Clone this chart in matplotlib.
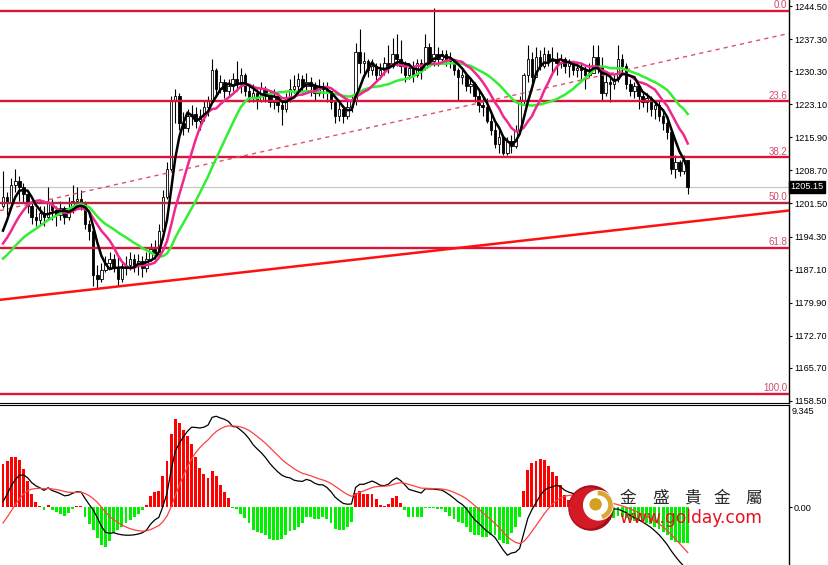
import numpy as np
import pandas as pd
import matplotlib
matplotlib.use("Agg")
import matplotlib.pyplot as plt
from matplotlib.patches import Circle, Wedge

plt.rcParams['font.family'] = ['Liberation Sans', 'DejaVu Sans']

# gold candles, bar 0 = first visible bar
close = [1203.0, 1201.5, 1205.5, 1206.5, 1205.0, 1203.5, 1201.0, 1198.5, 1198.0, 1199.5,
         1198.5, 1201.5, 1200.0, 1199.0, 1200.5, 1198.5, 1200.5, 1202.0, 1202.5, 1201.5,
         1197.0, 1195.5, 1186.0, 1185.0, 1187.0, 1188.5, 1189.5, 1187.5, 1185.0, 1187.5,
         1188.0, 1189.5, 1188.0, 1189.0, 1187.5, 1189.5, 1191.5, 1190.5, 1195.5, 1203.0,
         1209.0, 1224.0, 1225.0, 1219.0, 1218.0, 1220.5, 1221.0, 1219.5, 1220.5, 1222.5,
         1224.0, 1230.5, 1226.5, 1228.0, 1226.0, 1227.0, 1228.5, 1227.5, 1229.5, 1226.0,
         1224.5, 1225.5, 1224.0, 1226.5, 1225.0, 1223.5, 1225.0, 1223.0, 1222.0, 1224.5,
         1226.5, 1227.0, 1228.5, 1227.0, 1228.0, 1227.0, 1225.5, 1227.0, 1226.5, 1226.0,
         1223.5, 1220.5, 1222.0, 1220.5, 1222.5, 1224.0, 1234.5, 1232.0, 1232.5, 1230.5,
         1231.5, 1229.5, 1230.5, 1232.0, 1231.5, 1234.0, 1233.0, 1231.5, 1229.5, 1231.0,
         1229.5, 1232.0, 1231.0, 1235.5, 1232.5, 1234.0, 1233.0, 1234.0, 1233.0, 1232.5,
         1230.5, 1229.0, 1229.5, 1227.0, 1227.5, 1225.0, 1223.0, 1222.5, 1219.5, 1217.5,
         1214.5, 1216.0, 1212.5, 1215.0, 1214.0, 1217.5, 1224.0, 1229.5, 1233.0, 1229.0,
         1233.5, 1231.5, 1234.0, 1232.5, 1233.0, 1232.0, 1233.0, 1231.5, 1232.0, 1230.5,
         1231.0, 1230.5, 1229.5, 1230.0, 1233.5, 1231.5, 1225.5, 1228.0, 1227.5, 1228.5,
         1233.0, 1231.5, 1227.5, 1226.0, 1227.0, 1225.0, 1223.5, 1224.5, 1222.0, 1223.0,
         1220.5, 1219.0, 1217.0, 1209.0, 1210.5, 1208.5, 1211.0, 1205.15]
high = [1208.5, 1204.0, 1207.0, 1209.0, 1207.5, 1206.0, 1204.0, 1202.0, 1200.5, 1201.0,
        1201.0, 1205.0, 1202.5, 1201.0, 1202.0, 1201.0, 1203.0, 1205.5, 1205.0, 1204.5,
        1202.0, 1198.0, 1196.0, 1188.0, 1188.5, 1190.0, 1191.0, 1190.5, 1190.0, 1188.5,
        1190.0, 1191.0, 1190.5, 1190.5, 1190.0, 1191.0, 1193.0, 1193.5, 1197.0, 1204.5,
        1210.5, 1225.0, 1226.5, 1225.5, 1221.5, 1222.0, 1223.0, 1222.5, 1222.0, 1224.0,
        1225.0, 1233.0, 1231.0, 1229.5, 1228.5, 1228.5, 1230.0, 1232.5, 1231.0, 1230.0,
        1227.0, 1227.5, 1226.5, 1228.0, 1227.0, 1226.0, 1226.5, 1225.5, 1224.0, 1225.5,
        1228.5, 1229.5, 1230.0, 1229.5, 1230.0, 1229.0, 1228.0, 1228.5, 1228.0, 1228.0,
        1226.0, 1224.0, 1223.5, 1223.0, 1224.0, 1225.0, 1236.5, 1239.5, 1234.5, 1233.0,
        1233.0, 1232.0, 1232.0, 1233.5, 1236.0, 1237.5, 1238.5, 1237.0, 1232.5, 1232.0,
        1232.5, 1233.0, 1233.0, 1238.5, 1236.5, 1244.0, 1235.5, 1235.0, 1235.0, 1234.5,
        1233.0, 1231.0, 1231.0, 1230.0, 1229.0, 1228.0, 1226.0, 1225.0, 1224.5, 1221.5,
        1219.0, 1217.5, 1216.5, 1216.0, 1216.5, 1218.5, 1225.0, 1230.0, 1236.0, 1234.5,
        1235.5, 1235.0, 1235.5, 1235.0, 1235.5, 1234.5, 1234.0, 1233.5, 1233.0, 1232.5,
        1232.5, 1232.0, 1231.5, 1232.0, 1236.0, 1236.0, 1233.5, 1229.5, 1229.5, 1229.5,
        1236.0, 1234.0, 1232.0, 1228.5, 1228.0, 1227.5, 1226.0, 1225.5, 1225.0, 1224.0,
        1224.0, 1221.5, 1219.5, 1217.5, 1212.0, 1211.0, 1212.0, 1211.0]
low = [1200.5, 1199.0, 1201.0, 1204.0, 1202.0, 1201.5, 1199.5, 1197.0, 1196.5, 1197.0,
       1196.5, 1198.0, 1198.0, 1196.5, 1198.0, 1197.0, 1198.0, 1199.5, 1200.5, 1200.0,
       1196.0, 1193.5, 1183.5, 1183.2, 1184.5, 1186.5, 1187.5, 1186.5, 1183.6, 1184.5,
       1186.0, 1187.0, 1186.5, 1186.0, 1185.5, 1186.5, 1189.0, 1189.5, 1190.0, 1195.0,
       1202.5, 1208.5, 1219.0, 1217.5, 1216.5, 1217.0, 1218.5, 1218.0, 1217.5, 1219.5,
       1220.5, 1223.5, 1225.0, 1225.5, 1224.5, 1225.0, 1226.0, 1226.0, 1225.5, 1225.0,
       1223.5, 1223.5, 1222.0, 1223.5, 1223.5, 1222.5, 1222.0, 1221.5, 1218.5, 1221.5,
       1223.5, 1225.5, 1226.0, 1225.5, 1226.0, 1225.0, 1224.0, 1225.0, 1224.5, 1223.5,
       1222.0, 1219.0, 1219.5, 1219.0, 1220.0, 1221.5, 1223.0, 1230.0, 1229.0, 1229.0,
       1229.5, 1228.0, 1228.5, 1229.5, 1230.0, 1231.0, 1231.5, 1230.0, 1228.0, 1228.5,
       1228.0, 1229.0, 1228.5, 1230.5, 1231.5, 1231.5, 1231.5, 1232.0, 1231.5, 1231.0,
       1229.5, 1224.0, 1227.5, 1226.0, 1225.5, 1223.5, 1221.5, 1220.5, 1219.0, 1216.5,
       1213.5, 1212.5, 1212.0, 1212.0, 1212.5, 1213.5, 1217.0, 1223.0, 1228.0, 1227.0,
       1229.0, 1230.5, 1231.0, 1231.5, 1230.0, 1229.5, 1231.0, 1230.0, 1229.0, 1229.5,
       1229.0, 1228.5, 1226.5, 1229.0, 1230.0, 1230.0, 1224.0, 1225.0, 1223.5, 1226.5,
       1228.0, 1229.5, 1226.5, 1225.0, 1224.5, 1222.0, 1222.5, 1221.5, 1220.5, 1220.0,
       1219.5, 1217.5, 1215.5, 1208.0, 1207.0, 1207.5, 1208.0, 1203.5]
first_open = 1201.0
# closes before bar 0 (off screen), only used to warm up the moving averages
warm_close = [1185.5, 1186.5, 1186.0, 1187.0, 1185.5, 1186.5, 1187.0, 1186.0, 1186.5, 1185.5,
              1189.0, 1190.5, 1189.5, 1190.0, 1191.0, 1190.0, 1192.0, 1195.0, 1198.0]

# MACD histogram, 2*(DIF-DEA), one value per bar
macd_hist = [3.9, 4.2, 4.6, 4.6, 4.3, 3.5, 2.4, 1.2, 0.5, 0.1,
             -0.3, 0.15, -0.3, -0.45, -0.6, -0.8, -0.55, -0.15, 0.1, 0.05,
             -0.9, -1.6, -2.1, -2.8, -3.5, -3.7, -3.1, -2.4, -2.1, -1.8,
             -1.5, -1.2, -0.9, -0.6, -0.3, 0.15, 1.0, 1.4, 1.5, 2.8,
             4.2, 6.7, 8.1, 7.7, 7.1, 6.5, 5.8, 4.6, 3.6, 3.0,
             2.7, 3.3, 2.8, 2.0, 1.4, 0.8, -0.1, -0.15, -0.6, -1.0,
             -1.5, -2.1, -2.3, -2.4, -2.6, -2.9, -3.0, -3.0, -2.9, -2.6,
             -2.2, -2.1, -1.8, -1.5, -0.9, -0.9, -1.1, -1.1, -0.9, -1.1,
             -1.5, -2.0, -2.1, -2.1, -1.8, -1.4, 1.3, 1.5, 1.2, 1.2,
             1.2, 0.7, 0.2, 0.1, 0.3, 0.8, 1.0, 0.4, -0.3, -0.9,
             -0.9, -0.9, -0.9, -0.1, -0.1, -0.1, -0.15, -0.2, -0.5, -0.8,
             -1.1, -1.4, -1.5, -1.8, -2.3, -2.6, -2.6, -2.7, -2.7, -2.6,
             -2.6, -3.0, -3.3, -3.4, -2.4, -1.8, -0.9, 1.5, 3.4, 4.0,
             4.2, 4.4, 4.3, 3.8, 3.2, 2.8, 2.0, 1.1, 0.6, 0.3,
             0.1, -0.1, -0.3, -0.5, -0.7, -0.8, -0.8, -1.0, -1.2, -1.0,
             -0.8, -0.9, -1.0, -1.2, -1.3, -1.3, -1.4, -1.5, -1.6, -1.8,
             -2.0, -2.3, -2.6, -3.0, -3.2, -3.3, -3.3, -3.3]
dea_start = -1.95   # signal line just before bar 0
macd_top = 9.345

fib_hi, fib_lo = 1243.4, 1160.0
fib_pct = [0.0, 23.6, 38.2, 50.0, 61.8, 100.0]
last_price = 1205.15
price_ticks = [1244.50, 1237.30, 1230.30, 1223.10, 1215.90, 1208.70, 1201.50,
               1194.30, 1187.10, 1179.90, 1172.70, 1165.70, 1158.50]
trend_solid = [(0, 1180.6), (190, 1199.8)]
trend_dash = [(0, 1200.1), (190, 1238.2)]

# ---------------------------------------------------------------
n = len(close)
x = np.arange(n)
c = np.array(close)
o = np.r_[first_open, c[:-1]]
h = np.maximum(np.array(high), np.maximum(o, c))
l = np.minimum(np.array(low), np.minimum(o, c))

s = pd.Series(warm_close + close)
k = len(warm_close)
ma5 = s.rolling(5).mean().values[k:]
ma10 = s.rolling(10).mean().values[k:]
ma20 = s.rolling(20).mean().values[k:]

# DEA is a 9-EMA of DIF, so each bar moves it by hist/8
hist = np.array(macd_hist)
dea = dea_start + np.cumsum(hist) / 8.0
dif = dea + hist / 2.0

W, H = 829, 565
fig = plt.figure(figsize=(W / 100, H / 100), dpi=100)
ax = fig.add_axes([0, 1 - 403 / H, 789 / W, 403 / H])
ax2 = fig.add_axes([0, 0, 789 / W, (H - 405) / H])
xl = (-0.73, 191.7)

# candles
up = c >= o
ax.vlines(x, l, h, color='black', lw=0.8, zorder=2)
ax.bar(x[up], (c - o)[up], bottom=o[up], width=0.62, color='white',
       edgecolor='black', lw=0.6, zorder=3)
ax.bar(x[~up], (c - o)[~up], bottom=o[~up], width=0.62, color='black',
       edgecolor='black', lw=0.6, zorder=3)

ax.axhline(last_price, color='#c4c4c4', lw=0.8, zorder=1)

for p in fib_pct:
    lvl = fib_hi - (fib_hi - fib_lo) * p / 100
    col = '#b4283f' if p == 50.0 else '#dc143c'
    ax.axhline(lvl, color=col, lw=1.7, zorder=4)
    ax.text(xl[1] - 0.5, lvl + 0.15, '%.1f' % p, ha='right', va='bottom',
            fontsize=7, color='#d24b6a', zorder=6)

ax.axline(trend_solid[0], trend_solid[1], color='#ff1010', lw=1.8, zorder=4)
ax.axline(trend_dash[0], trend_dash[1], color='#e0506a', lw=1.0,
          ls=(0, (3, 3)), zorder=4)

ax.plot(x, ma20, color='#33ee33', lw=1.8, zorder=5)
ax.plot(x, ma10, color='#f0288c', lw=1.8, zorder=5)
ax.plot(x, ma5, color='black', lw=1.8, zorder=5)

ax.set_xlim(*xl)
ax.set_ylim(1158.06, 1245.81)

# macd panel
ax2.bar(x, hist, width=0.7, color=np.where(hist >= 0, '#ff0000', '#00f000'), zorder=2)
ax2.plot(x, dif, color='black', lw=0.9, zorder=3)
ax2.plot(x, dea, color='#ff4040', lw=0.9, zorder=3)
ax2.set_xlim(*xl)
ax2.set_ylim(-5.31, macd_top)

for a in (ax, ax2):
    for sp in ('left', 'top', 'bottom'):
        a.spines[sp].set_visible(False)
    a.spines['right'].set_linewidth(1.0)
    a.set_xticks([])
    a.yaxis.tick_right()
    a.tick_params(axis='y', length=2.5, width=0.8, pad=1, labelsize=6.6)
ax.spines['bottom'].set_visible(True)
ax2.spines['top'].set_visible(True)

ax.set_yticks(price_ticks)
ax.set_yticklabels(['%.2f' % v for v in price_ticks])
ax2.set_yticks([0])
ax2.set_yticklabels(['0.00'])
fig.text(792 / W, 1 - 412 / H, '%.3f' % macd_top, fontsize=6.6, va='center')

ax.text(1.002, last_price, '%.2f' % last_price, transform=ax.get_yaxis_transform(),
        color='white', fontsize=6.6, va='center', ha='left', clip_on=False, zorder=10,
        bbox=dict(facecolor='black', edgecolor='black', boxstyle='square,pad=0.18'))

# watermark logo
lax = fig.add_axes([568 / W, 1 - 531 / H, 46 / W, 46 / H])
lax.set_xlim(0, 1)
lax.set_ylim(0, 1)
lax.set_aspect('equal')
lax.axis('off')
lax.add_patch(Circle((0.5, 0.5), 0.48, color='#a80e18'))
lax.add_patch(Circle((0.47, 0.5), 0.43, color='#d41a24'))
lax.add_patch(Circle((0.66, 0.56), 0.32, color='white'))
lax.add_patch(Wedge((0.66, 0.56), 0.30, -70, 90, width=0.07, color='#d8a830'))
lax.add_patch(Circle((0.6, 0.58), 0.12, color='#d4a020'))

for ch, px in zip(['金', '盛', '貴', '金', '屬'], [628, 661, 692, 722, 754]):
    fig.text(px / W, 1 - 498 / H, ch, fontsize=12, color='#2a2a2a', ha='center',
             va='center', family=['Noto Sans CJK TC', 'DejaVu Sans'])
fig.text(619 / W, 1 - 518 / H, 'www.golday.com', fontsize=12.3, color='#e8101e',
         ha='left', va='center', family=['DejaVu Sans'])

fig.savefig('out.png', dpi=100, facecolor='white')
